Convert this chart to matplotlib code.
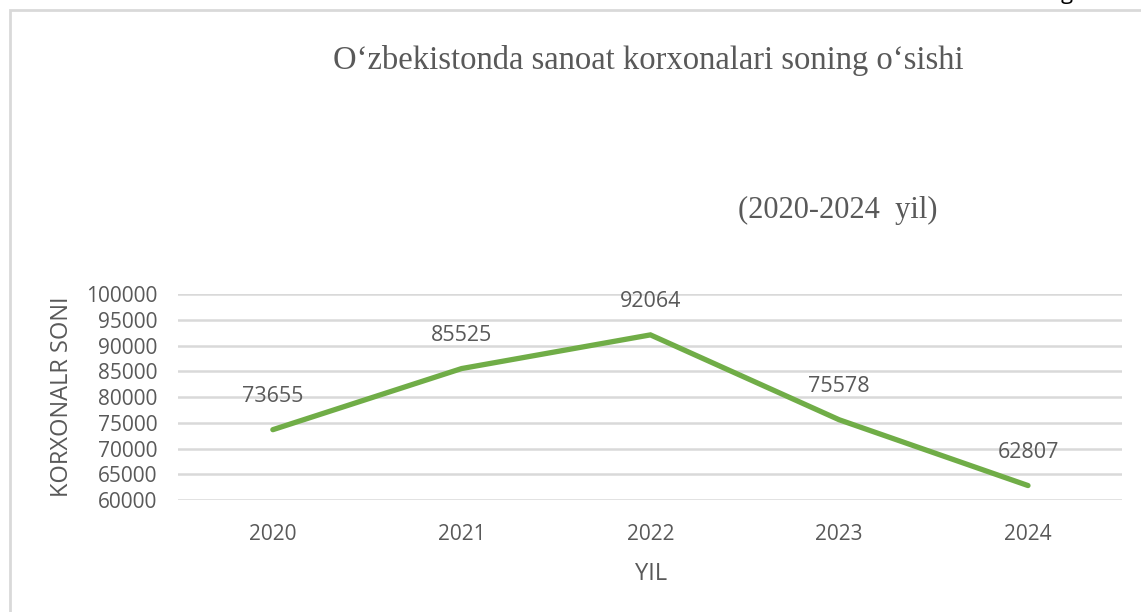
import matplotlib.pyplot as plt
from matplotlib.patches import Rectangle

years = ['2020', '2021', '2022', '2023', '2024']
korxonalar = [73655, 85525, 92064, 75578, 62807]
y_ticks = [60000, 65000, 70000, 75000, 80000, 85000, 90000, 95000, 100000]

grey = '#595959'
sans = ['Open Sans', 'DejaVu Sans']
serif = ['Liberation Serif', 'DejaVu Serif']

fig = plt.figure(figsize=(11.41, 6.12), dpi=100)
ax = fig.add_axes([0.1564, 0.183, 0.8273, 0.3366])

# chart frame (only top and left edge visible in the crop)
fig.patches.append(Rectangle((10 / 1141, -0.1), 1.2, 1 - 10 / 612 + 0.1,
                             transform=fig.transFigure, fill=False,
                             edgecolor='#d9d9d9', linewidth=2))
# stray glyph from the page above, cut by the top edge
fig.text(1067 / 1141, 1.0 + 6 / 612, 'g', fontsize=16, family=sans,
         color='black', ha='center', va='center')

x = range(len(years))
ax.plot(x, korxonalar, color='#70ad47', linewidth=3.8, solid_capstyle='round',
        solid_joinstyle='miter', zorder=3)
for i, v in zip(x, korxonalar):
    ax.annotate(str(v), (i, v), xytext=(0, 24), textcoords='offset points',
                ha='center', va='center', fontsize=15.5, color=grey, family=sans)

ax.set_xlim(-0.5, len(years) - 0.5)
ax.set_ylim(60000, 100000)
ax.set_xticks(list(x))
ax.set_xticklabels(years)
ax.set_yticks(y_ticks)
ax.set_yticklabels([str(t) for t in y_ticks])
ax.grid(axis='y', color='#d9d9d9', linewidth=1.8)
ax.set_axisbelow(True)
for s in ax.spines.values():
    s.set_visible(False)
ax.tick_params(length=0, colors=grey, labelsize=15)
ax.tick_params(axis='x', pad=17)
ax.tick_params(axis='y', pad=15)
for lab in ax.get_xticklabels() + ax.get_yticklabels():
    lab.set_family(sans)

fig.text(62 / 1141, 1 - 397 / 612, 'KORXONALR SONI', rotation=90, fontsize=17,
         color=grey, family=sans, ha='center', va='center')
fig.text(651 / 1141, 1 - 574 / 612, 'YIL', fontsize=17, color=grey,
         family=sans, ha='center', va='center')

fig.text(648 / 1141, 1 - 60 / 612, 'O‘zbekistonda sanoat korxonalari soning o‘sishi',
         fontsize=23.5, color=grey, family=serif, ha='center', va='center')
fig.text(838 / 1141, 1 - 210 / 612, '(2020-2024  yil)', fontsize=22,
         color=grey, family=serif, ha='center', va='center')

fig.savefig('out.png', dpi=100, facecolor='white')
